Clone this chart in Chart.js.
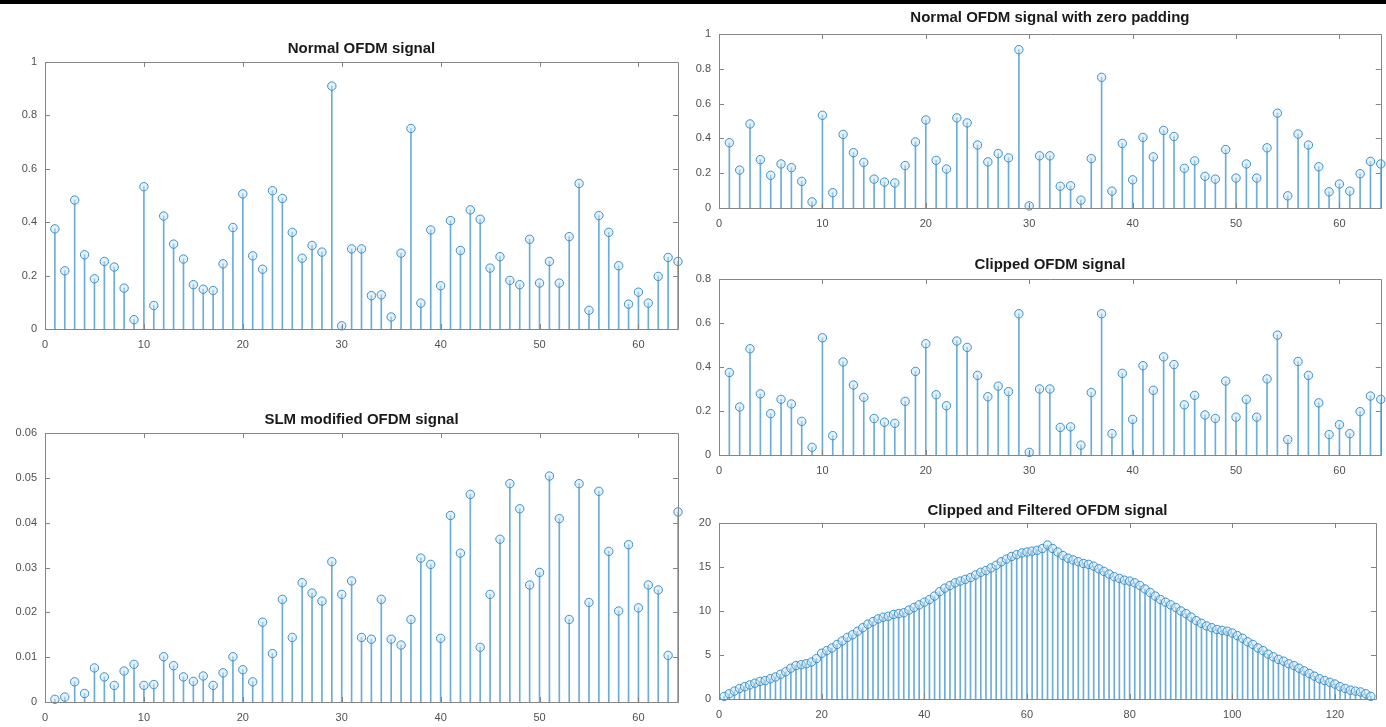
<!DOCTYPE html>
<html>
<head>
<meta charset="utf-8">
<script src="https://cdn.jsdelivr.net/npm/chart.js@4.4.1/dist/chart.umd.min.js"></script>
<style>
html,body{margin:0;padding:0;background:#fff;width:1386px;height:727px;overflow:hidden;position:relative}
#topbar{position:absolute;left:0;top:0;width:1386px;height:4px;background:#000}
canvas{position:absolute}
</style>
</head>
<body>
<div id="topbar"></div>
<canvas id="c1"></canvas>
<canvas id="c2"></canvas>
<canvas id="c3"></canvas>
<canvas id="c4"></canvas>
<canvas id="c5"></canvas>
<script>
// ---------- DATA ----------
const sampleIdx64 = [1,2,3,4,5,6,7,8,9,10,11,12,13,14,15,16,17,18,19,20,21,22,23,24,25,26,27,28,29,30,31,32,
  33,34,35,36,37,38,39,40,41,42,43,44,45,46,47,48,49,50,51,52,53,54,55,56,57,58,59,60,61,62,63,64];

const sampleIdx127 = [1,2,3,4,5,6,7,8,9,10,11,12,13,14,15,16,17,18,19,20,21,22,23,24,25,26,27,28,29,30,31,32,
  33,34,35,36,37,38,39,40,41,42,43,44,45,46,47,48,49,50,51,52,53,54,55,56,57,58,59,60,61,62,63,64,
  65,66,67,68,69,70,71,72,73,74,75,76,77,78,79,80,81,82,83,84,85,86,87,88,89,90,91,92,93,94,95,96,
  97,98,99,100,101,102,103,104,105,106,107,108,109,110,111,112,113,114,115,116,117,118,119,120,121,122,123,124,125,126,127];

const normalOFDM = [0.375,0.218,0.483,0.278,0.188,0.253,0.232,0.153,0.035,0.533,0.088,0.423,0.318,0.262,0.166,0.149,
  0.144,0.244,0.380,0.506,0.274,0.224,0.518,0.489,0.362,0.265,0.313,0.288,0.910,0.012,0.300,0.300,
  0.125,0.128,0.045,0.284,0.751,0.097,0.371,0.162,0.406,0.294,0.446,0.411,0.228,0.271,0.182,0.166,
  0.336,0.172,0.253,0.172,0.346,0.545,0.070,0.425,0.362,0.237,0.093,0.138,0.097,0.197,0.268,0.253];

const zeroPadOFDM = [0.375,0.218,0.483,0.278,0.188,0.253,0.232,0.153,0.035,0.533,0.088,0.423,0.318,0.262,0.166,0.149,
  0.144,0.244,0.380,0.506,0.274,0.224,0.518,0.489,0.362,0.265,0.313,0.288,0.910,0.012,0.300,0.300,
  0.125,0.128,0.045,0.284,0.751,0.097,0.371,0.162,0.406,0.294,0.446,0.411,0.228,0.271,0.182,0.166,
  0.336,0.172,0.253,0.172,0.346,0.545,0.070,0.425,0.362,0.237,0.093,0.138,0.097,0.197,0.268,0.253];

const clippedOFDM = [0.375,0.218,0.483,0.278,0.188,0.253,0.232,0.153,0.035,0.533,0.088,0.423,0.318,0.262,0.166,0.149,
  0.144,0.244,0.380,0.506,0.274,0.224,0.518,0.489,0.362,0.265,0.313,0.288,0.642,0.012,0.300,0.300,
  0.125,0.128,0.045,0.284,0.642,0.097,0.371,0.162,0.406,0.294,0.446,0.411,0.228,0.271,0.182,0.166,
  0.336,0.172,0.253,0.172,0.346,0.545,0.070,0.425,0.362,0.237,0.093,0.138,0.097,0.197,0.268,0.253];

const slmOFDM = [0.0006,0.0011,0.0045,0.0019,0.0076,0.0056,0.0037,0.0069,0.0084,0.0037,0.0039,0.0101,0.0081,0.0056,0.0046,0.0058,
  0.0037,0.0065,0.0101,0.0072,0.0045,0.0178,0.0108,0.0229,0.0144,0.0266,0.0243,0.0225,0.0313,0.0240,0.0270,0.0144,
  0.0140,0.0229,0.0140,0.0127,0.0184,0.0321,0.0307,0.0142,0.0416,0.0332,0.0463,0.0122,0.0240,0.0363,0.0487,0.0431,
  0.0261,0.0289,0.0504,0.0409,0.0184,0.0487,0.0222,0.0470,0.0336,0.0203,0.0351,0.0210,0.0261,0.0250,0.0104,0.0424];

const clipFiltOFDM = [0.3,0.6,0.9,1.2,1.4,1.6,1.8,2.0,2.1,2.3,2.5,2.8,3.1,3.5,3.8,3.9,
  4.0,4.2,4.6,5.2,5.5,5.8,6.2,6.6,7.0,7.3,7.7,8.1,8.5,8.8,9.1,9.3,
  9.4,9.6,9.7,9.8,10.1,10.4,10.7,11.0,11.3,11.7,12.2,12.6,12.9,13.2,13.4,13.6,
  13.8,14.1,14.4,14.6,14.9,15.2,15.6,15.9,16.2,16.4,16.6,16.7,16.8,16.9,17.1,17.5,
  17.1,16.7,16.3,16.0,15.8,15.6,15.4,15.3,15.1,14.8,14.5,14.2,13.9,13.7,13.5,13.4,
  13.2,12.9,12.5,12.1,11.7,11.3,11.0,10.7,10.4,10.0,9.7,9.3,8.9,8.6,8.3,8.1,
  7.9,7.8,7.7,7.5,7.2,6.9,6.5,6.2,5.8,5.5,5.1,4.8,4.5,4.3,4.0,3.8,
  3.5,3.2,2.9,2.6,2.3,2.1,1.9,1.7,1.4,1.2,1.0,0.9,0.8,0.6,0.3];

const xTicks64 = [0,10,20,30,40,50,60];
const xTicks128 = [0,20,40,60,80,100,120];
const yTicksUnit = [0,0.2,0.4,0.6,0.8,1];
const yTicksClip = [0,0.2,0.4,0.6,0.8];
const yTicksSLM = [0,0.01,0.02,0.03,0.04,0.05,0.06];
const yTicksFilt = [0,5,10,15,20];

const titles = ['Normal OFDM signal','SLM modified OFDM signal','Normal OFDM signal with zero padding',
                'Clipped OFDM signal','Clipped and Filtered OFDM signal'];

// ---------- STYLE ----------
const STEM = '#6aaddb';
const MARK = '#3d8fc8';
const MARKFILL = 'rgba(200,228,245,0.5)';
const FRAME = '#858585';
const TICKTXT = '#505050';
const FONT = "'Liberation Sans', Arial, Helvetica, sans-serif";

const matlabFrame = {
  id: 'matlabFrame',
  afterDraw(chart, args, o) {
    const {ctx, chartArea: a, scales} = chart;
    ctx.save();
    ctx.strokeStyle = FRAME;
    ctx.lineWidth = 1;
    ctx.beginPath();
    ctx.rect(Math.round(a.left) + 0.5, Math.round(a.top) + 0.5,
             Math.round(a.right - a.left), Math.round(a.bottom - a.top));
    ctx.stroke();
    const L = 5;
    ctx.beginPath();
    scales.x.ticks.forEach(t => {
      const px = Math.round(scales.x.getPixelForValue(t.value)) + 0.5;
      ctx.moveTo(px, a.bottom); ctx.lineTo(px, a.bottom - L);
      ctx.moveTo(px, a.top); ctx.lineTo(px, a.top + L);
    });
    scales.y.ticks.forEach(t => {
      const py = Math.round(scales.y.getPixelForValue(t.value)) + 0.5;
      ctx.moveTo(a.left, py); ctx.lineTo(a.left + L, py);
      ctx.moveTo(a.right, py); ctx.lineTo(a.right - L, py);
    });
    ctx.stroke();
    ctx.fillStyle = '#1a1a1a';
    ctx.font = 'bold 15px ' + FONT;
    ctx.textAlign = 'center';
    ctx.textBaseline = 'middle';
    ctx.fillText(o.text, (a.left + a.right) / 2, o.y);
    ctx.restore();
  }
};

function fmt(v) { return String(+Number(v).toFixed(4)); }

function makePanel(id, cv, plot, title, titleY, xs, ys, xMax, yMax, xT, yT) {
  const el = document.getElementById(id);
  el.width = cv.w; el.height = cv.h;
  el.style.left = cv.l + 'px'; el.style.top = cv.t + 'px';
  el.style.width = cv.w + 'px'; el.style.height = cv.h + 'px';
  const xAxisH = 26;
  const yAxisW = plot.l - cv.l;
  const padTop = plot.t - cv.t;
  const padRight = (cv.l + cv.w) - plot.r;
  const padBottom = (cv.t + cv.h) - plot.b - xAxisH;
  const pts = xs.map((x, i) => ({x: x, y: ys[i]}));
  new Chart(el, {
    type: 'bar',
    data: {
      datasets: [
        {type: 'scatter', data: pts, showLine: false, pointRadius: 4.2, pointBorderWidth: 1,
         pointBorderColor: MARK, pointBackgroundColor: MARKFILL, clip: false},
        {type: 'bar', data: pts, backgroundColor: STEM, borderWidth: 0, barThickness: 1}
      ]
    },
    options: {
      responsive: false, animation: false, events: [],
      devicePixelRatio: 1,
      layout: {padding: {left: 0, top: padTop, right: padRight, bottom: padBottom}},
      plugins: {legend: {display: false}, tooltip: {enabled: false},
                matlabFrame: {text: title, y: titleY - cv.t}},
      scales: {
        x: {type: 'linear', min: 0, max: xMax, offset: false,
            grid: {display: false, drawTicks: false}, border: {display: false},
            afterBuildTicks: ax => { ax.ticks = xT.map(v => ({value: v})); },
            afterFit: ax => { ax.height = xAxisH; },
            ticks: {padding: 9, color: TICKTXT, font: {family: FONT, size: 11}, maxRotation: 0,
                    autoSkip: false, callback: v => fmt(v)}},
        y: {type: 'linear', min: 0, max: yMax,
            grid: {display: false, drawTicks: false}, border: {display: false},
            afterBuildTicks: ax => { ax.ticks = yT.map(v => ({value: v})); },
            afterFit: ax => { ax.width = yAxisW; },
            ticks: {padding: 8, color: TICKTXT, font: {family: FONT, size: 11},
                    autoSkip: false, callback: v => fmt(v)}}
      }
    },
    plugins: [matlabFrame]
  });
}

makePanel('c1', {l: 0, t: 28, w: 690, h: 340}, {l: 45, t: 62, r: 678, b: 329},
  titles[0], 49, sampleIdx64, normalOFDM, 64, 1, xTicks64, yTicksUnit);
makePanel('c2', {l: 0, t: 400, w: 690, h: 327}, {l: 45, t: 433, r: 678, b: 702},
  titles[1], 420, sampleIdx64, slmOFDM, 64, 0.06, xTicks64, yTicksSLM);
makePanel('c3', {l: 690, t: 5, w: 696, h: 235}, {l: 719, t: 34, r: 1381, b: 208},
  titles[2], 18, sampleIdx64, zeroPadOFDM, 64, 1, xTicks64, yTicksUnit);
makePanel('c4', {l: 690, t: 245, w: 696, h: 240}, {l: 719, t: 279, r: 1381, b: 455},
  titles[3], 265, sampleIdx64, clippedOFDM, 64, 0.8, xTicks64, yTicksClip);
makePanel('c5', {l: 690, t: 490, w: 696, h: 237}, {l: 719, t: 523, r: 1376, b: 699},
  titles[4], 511, sampleIdx127, clipFiltOFDM, 128, 20, xTicks128, yTicksFilt);
</script>
</body>
</html>
